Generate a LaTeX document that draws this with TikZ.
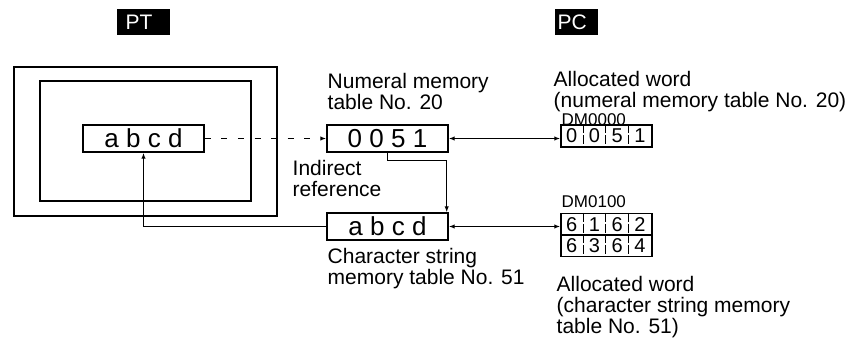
\documentclass[tikz,border=0pt]{standalone}
\usepackage{fontspec}
\setmainfont{Liberation Sans}
\usetikzlibrary{arrows.meta,calc}

\begin{document}
\begin{tikzpicture}[x=0.5pt,y=-0.5pt,line width=0.7pt,>={Latex[length=3pt,width=2.2pt]},
    every node/.style={inner sep=0pt,font=\fontsize{10.5}{10.5}\selectfont},
    tag/.style={fill=black,text=white,minimum height=13pt,anchor=west,align=left},
    membox/.style={draw,minimum width=60.5pt,minimum height=13.5pt,font=\fontsize{13}{13}\selectfont},
    dmbox/.style={draw,minimum width=45.5pt,minimum height=11pt},
    dmtext/.style={anchor=north west,font=\fontsize{8.5}{8.5}\selectfont},
    lbl/.style={anchor=north west,align=left},
    divider/.style={line width=0.5pt,dash pattern=on 4.5pt off 1pt}]
        \useasboundingbox (0,0) rectangle (856,341);
        % headings
        \node[tag,inner xsep=4.5pt,text width=17.5pt] (pt) at (116,22.5) {PT};
        \node[tag,inner xsep=1.5pt,text width=18.5pt] (pc) at (554,22.5) {PC};
        % PT screen
        \draw (14,67) rectangle (277,216);
        \draw (40,81) rectangle (251,201);
        \node[membox] (scr) at (143.5,138.5) {a b c d};
        % memory tables
        \node[membox] (num) at (387.5,138.5) {0 0 5 1};
        \node[membox] (chr) at (387.5,226.5) {a b c d};
        \node[lbl] (numlbl) at (327,73) {Numeral memory\\table No. 20};
        \node[lbl] (indlbl) at (292,160) {Indirect\\reference};
        \node[lbl] (chrlbl) at (327,248) {Character string\\memory table No. 51};
        % allocated words
        \node[lbl] (wdA) at (553,71) {Allocated word\\(numeral memory table No. 20)};
        \node[dmtext] (dmAlbl) at (561,112.5) {DM0000};
        \node[dmbox] (dmA) at (606.5,136) {};
        \node[dmtext] (dmBlbl) at (561,195) {DM0100};
        \node[dmbox] (dmB1) at (606.5,224.5) {};
        \node[dmbox] (dmB2) at (606.5,245.5) {};
        \node[lbl] (wdB) at (556,276) {Allocated word\\(character string memory\\table No. 51)};
        \foreach \d [count=\i] in {0,0,5,1}
            \node[font=\fontsize{10}{10}\selectfont] at ([xshift={(\i-0.5)*11.375pt}]dmA.west) {\d};
        \foreach \d [count=\i] in {6,1,6,2}
            \node[font=\fontsize{10}{10}\selectfont] at ([xshift={(\i-0.5)*11.375pt}]dmB1.west) {\d};
        \foreach \d [count=\i] in {6,3,6,4}
            \node[font=\fontsize{10}{10}\selectfont] at ([xshift={(\i-0.5)*11.375pt}]dmB2.west) {\d};
        \foreach \b in {dmA,dmB1,dmB2}
            \foreach \i in {1,2,3}
                \draw[divider] ([xshift=\i*11.375pt]\b.north west) -- ([xshift=\i*11.375pt]\b.south west);
        % connectors
        \draw[->,dash pattern=on 3pt off 5.3pt] (scr.east) -- (num.west);
        \draw[<->] (num.east) -- (num.east -| dmA.west);
        \draw[<->] (chr.east) -- (chr.east -| dmB1.west);
        \draw[->] (num.south) -- ++(0,8) -| ([xshift=-1pt]chr.north east);
        \draw[->] (chr.west) -| (scr.south);
    \end{tikzpicture}
\end{document}
